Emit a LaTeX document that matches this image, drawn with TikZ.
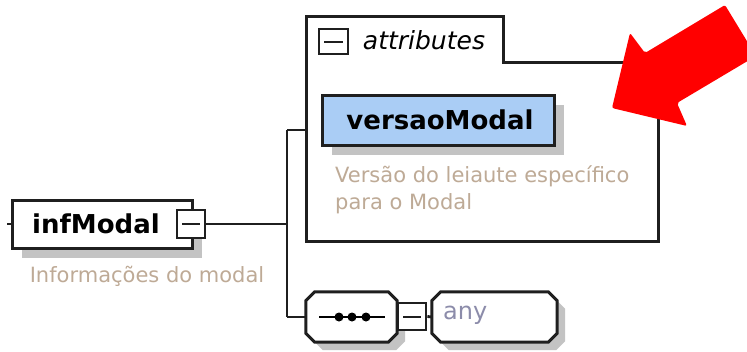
\documentclass[tikz,border=0pt]{standalone}
\usepackage{fontspec}
\setmainfont{DejaVu Sans}
\usetikzlibrary{shadows}
\definecolor{boxline}{rgb}{0.12,0.12,0.12}
\definecolor{descc}{RGB}{190,170,150}
\definecolor{anyc}{RGB}{140,140,170}
\definecolor{elemblue}{RGB}{170,205,245}
\definecolor{shadowc}{RGB}{195,195,195}
\begin{document}
\begin{tikzpicture}[x=1pt,y=-1pt,
  elem/.style={draw=boxline,line width=3pt,fill=white,inner sep=0pt,
    drop shadow={shadow xshift=10pt,shadow yshift=-10pt,fill=shadowc,opacity=1}},
  octo/.style={inner sep=0pt},
  octoline/.style={draw=boxline,line width=3pt,fill=white},
  minusbox/.style={draw=boxline,line width=2.8pt,fill=white,inner sep=0pt,
    path picture={\draw[line width=2pt,boxline] ([xshift=5pt]path picture bounding box.west) -- ([xshift=-5pt]path picture bounding box.east);}},
  conn/.style={line width=2.8pt,boxline},
  bold/.style={font=\fontsize{26}{30}\selectfont\bfseries},
  desc/.style={font=\fontsize{21}{27}\selectfont,text=descc,align=left,inner sep=0pt}
]
\useasboundingbox (0,0) rectangle (747,351);

% infModal element
\node[elem,minimum width=180pt,minimum height=48pt] (inf) at (102,224) {};
\node[bold,inner sep=0pt] (inft) at (96,224) {infModal};
\node[minusbox,minimum width=28pt,minimum height=28pt] (infminus) at (191,224) {};
\node[desc] (infdesc) at (147,276) {Informações do modal};
\coordinate (stub) at (7,224);
\draw[conn] (stub) -- (inf.west);

% attributes box
\draw[boxline,line width=3pt,fill=white] (306,241) -- (306,16) -- (503,16) -- (503,62) -- (658,62) -- (658,241) -- cycle;
\node[minusbox,minimum width=29pt,minimum height=25pt] (attrminus) at (333.5,41.5) {};
\node[font=\fontsize{25}{30}\selectfont\itshape,inner sep=0pt] (attrt) at (424,40) {attributes};
\coordinate (attrL) at (306,130);

% versaoModal
\node[elem,fill=elemblue,minimum width=232pt,minimum height=50pt] (vm) at (438,120) {};
\node[bold,inner sep=0pt] (vmt) at (440,120) {versaoModal};
\node[desc,anchor=west] (vmdesc) at (335,190) {Versão do leiaute específico\\para o Modal};

% sequence and any (octagons)
\node[octo,minimum width=91pt,minimum height=50pt] (seq) at (351.5,317) {};
\node[octo,minimum width=125pt,minimum height=50pt] (any) at (494.5,317) {};
\begin{scope}[transform canvas={shift={(8pt,-8pt)}}]
\foreach \n in {seq,any}{
  \fill[shadowc] ([xshift=9pt]\n.north west) -- ([xshift=-9pt]\n.north east) -- ([yshift=-9pt]\n.north east) -- ([yshift=9pt]\n.south east) -- ([xshift=-9pt]\n.south east) -- ([xshift=9pt]\n.south west) -- ([yshift=9pt]\n.south west) -- ([yshift=-9pt]\n.north west) -- cycle;
}
\end{scope}
\foreach \n in {seq,any}{
  \draw[octoline] ([xshift=9pt]\n.north west) -- ([xshift=-9pt]\n.north east) -- ([yshift=-9pt]\n.north east) -- ([yshift=9pt]\n.south east) -- ([xshift=-9pt]\n.south east) -- ([xshift=9pt]\n.south west) -- ([yshift=9pt]\n.south west) -- ([yshift=-9pt]\n.north west) -- cycle;
}
\coordinate (sl) at (319,317);
\coordinate (sr) at (385,317);
\draw[line width=2.4pt,black] (sl) -- (sr);
\foreach \px in {339,352,366} \fill[black] (\px,317) circle (4.5pt);
\node[minusbox,minimum width=28pt,minimum height=27pt] (seqminus) at (412,316.5) {};
\node[font=\fontsize{24}{28}\selectfont,text=anyc,anchor=west,inner sep=0pt] (anyt) at (443,315) {any};

% connectors
\coordinate (j) at (287,224);
\coordinate (jt) at (287,130);
\coordinate (jb) at (287,317);
\draw[conn] (infminus.east) -- (j);
\draw[conn] (jt) -- (jb);
\draw[conn] (jt) -- (attrL);
\draw[conn] (jb) -- (seq.west);
\draw[conn] (seqminus.east) -- (any.west);

% red arrow
\begin{scope}
\clip (0,0) rectangle (747,351);
\fill[red,rounded corners=2pt] (612,108) -- (630,33) -- (645,53) -- (725,5) -- (756,56) -- (677,103) -- (687,126) -- cycle;
\end{scope}
\end{tikzpicture}
\end{document}
